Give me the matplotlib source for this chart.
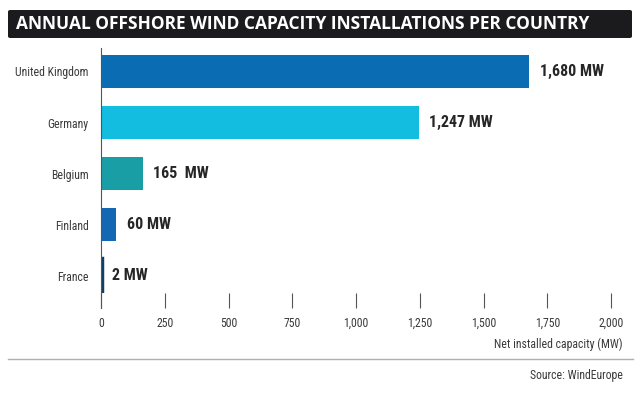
import matplotlib
matplotlib.use("Agg")
import matplotlib.pyplot as plt
from matplotlib.patches import FancyBboxPatch
from matplotlib.lines import Line2D

countries = ["United Kingdom", "Germany", "Belgium", "Finland", "France"]
values = [1680, 1247, 165, 60, 2]
value_labels = ["1,680 MW", "1,247 MW", "165  MW", "60 MW", "2 MW"]
colors = ["#0a6db3", "#12bde0", "#1a9ea6", "#1467b2", "#0e3f68"]
xticks = [0, 250, 500, 750, 1000, 1250, 1500, 1750, 2000]
xtick_labels = ["0", "250", "500", "750", "1,000", "1,250", "1,500", "1,750", "2,000"]
title = "ANNUAL OFFSHORE WIND CAPACITY INSTALLATIONS PER COUNTRY"
xlabel = "Net installed capacity (MW)"
source = "Source: WindEurope"

W, H = 640, 394
plt.rcParams['font.family'] = ['Roboto Condensed', 'Liberation Sans', 'DejaVu Sans']
fig = plt.figure(figsize=(W / 100, H / 100), dpi=100)

# title bar
bar = FancyBboxPatch((8 / W, 1 - 38 / H), (632 - 8) / W, 28 / H,
                     boxstyle="round,pad=0,rounding_size=0.004",
                     transform=fig.transFigure, facecolor="#1b1b1d", edgecolor="none")
fig.patches.append(bar)
fig.text(16 / W, 1 - 24 / H, title, color="white", fontsize=12.5, fontweight="bold",
         family=['Open Sans', 'DejaVu Sans'], va="center", ha="left")

ax = fig.add_axes([101 / W, 1 - 293 / H, (611 - 101) / W, (293 - 48) / H])
ypos = list(range(len(countries)))
bars = ax.barh(ypos, values, height=0.65, color=colors, edgecolor=colors, linewidth=0)
bars[-1].set_linewidth(3.2)
bars[-1].set_joinstyle("miter")
ax.set_ylim(4.34, -0.46)
ax.set_xlim(0, 2000)
ax.set_yticks(ypos)
ax.set_yticklabels(countries, fontsize=8.5, color="#3a3a3a")
ax.tick_params(axis="y", length=0, pad=9)
ax.set_xticks(xticks)
ax.set_xticklabels(xtick_labels, fontsize=8.5, color="#3a3a3a")
ax.tick_params(axis="x", length=11, width=0.8, color="#555555", pad=6, direction="out")
for s in ["top", "right", "bottom"]:
    ax.spines[s].set_visible(False)
ax.spines["left"].set_color("#555555")
ax.spines["left"].set_linewidth(0.8)
ax.spines["left"].set_bounds(4.34 + 0.29, -0.46)
ax.spines["left"].set_clip_on(False)

for y, v, lab in zip(ypos, values, value_labels):
    ax.annotate(lab, (v, y), xytext=(7.5, 0), textcoords="offset points",
                va="center", ha="left", fontsize=11.5, color="#262626", fontweight="bold")

fig.text(623 / W, 1 - 344 / H, xlabel, fontsize=8.5, color="#3a3a3a", ha="right", va="center")
fig.add_artist(Line2D([8 / W, 633 / W], [1 - 359 / H, 1 - 359 / H], transform=fig.transFigure,
                      color="#b0b0b0", linewidth=1))
fig.text(623 / W, 1 - 376 / H, source, fontsize=8.5, color="#3a3a3a", ha="right", va="center")

fig.savefig("out.png", dpi=100, facecolor="white")
